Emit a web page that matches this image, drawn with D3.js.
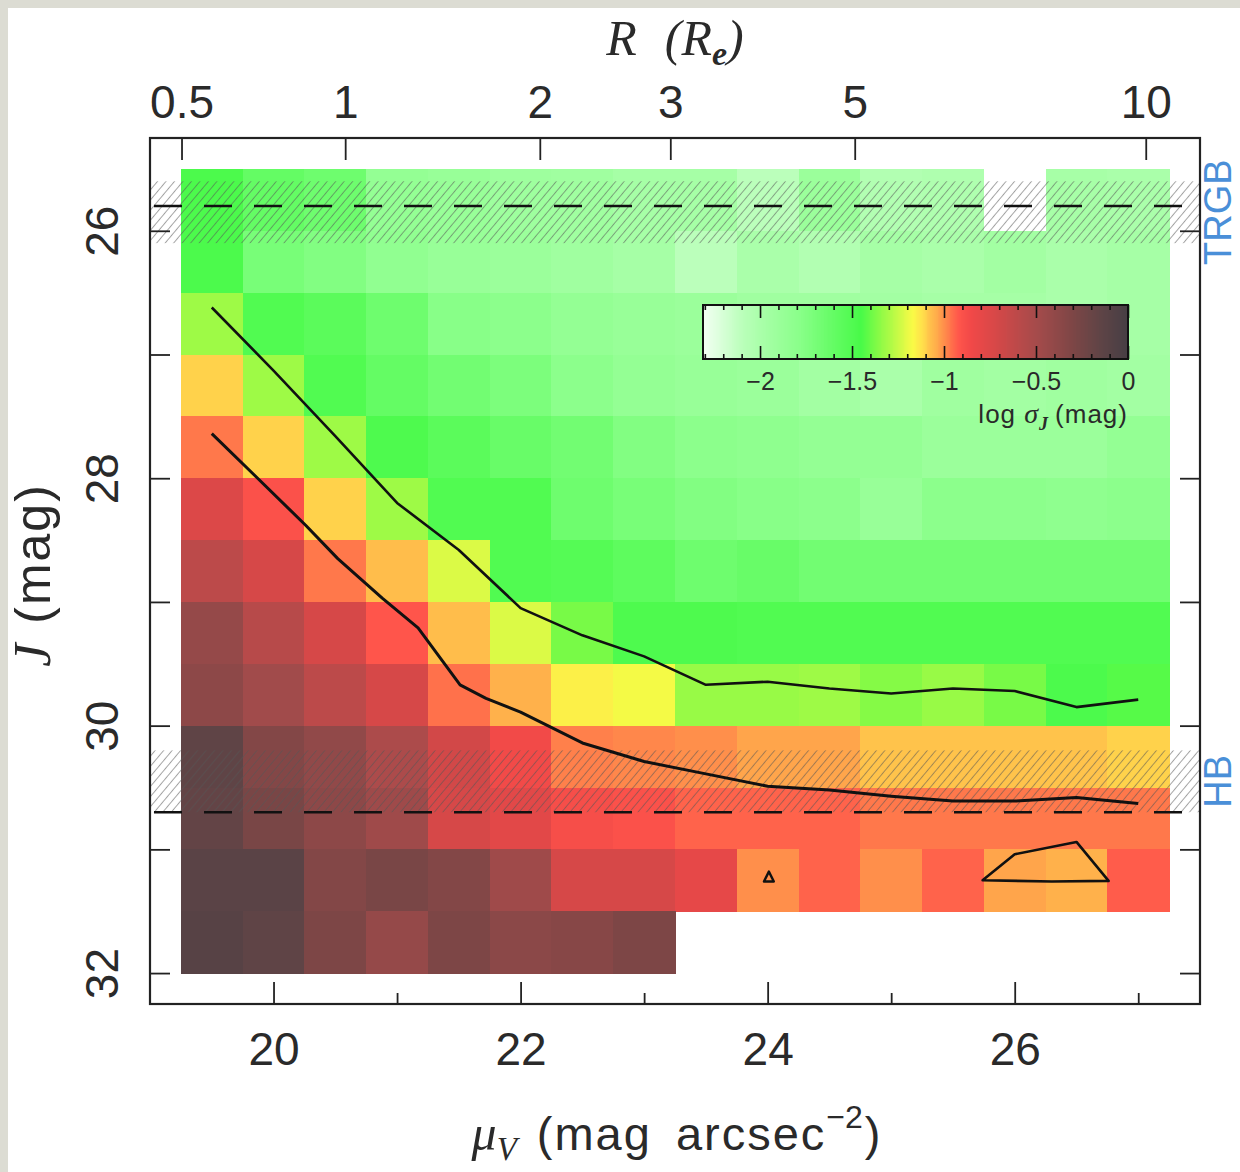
<!DOCTYPE html>
<html><head><meta charset="utf-8">
<script src="https://cdn.jsdelivr.net/npm/d3@7"></script>
<style>body{margin:0;background:#dcdcd3;overflow:hidden} svg{display:block}</style>
</head><body><svg id="c" width="1240" height="1172"></svg>
<script>
// ---------------- data ----------------
const muCenters = [19.5,20,20.5,21,21.5,22,22.5,23,23.5,24,24.5,25,25.5,26,26.5,27];
const jCenters = [25.75,26.25,26.75,27.25,27.75,28.25,28.75,29.25,29.75,30.25,30.75,31.25,31.75];
const logSigmaJ = [
 [-1.47,-1.60,-1.65,-1.85,-1.88,-1.92,-1.93,-1.97,-1.97,-2.10,-1.90,-2.05,-2.03,null,-1.98,-2.00],
 [-1.47,-1.70,-1.75,-1.83,-1.88,-1.90,-1.93,-1.97,-2.10,-2.00,-2.05,-1.97,-2.00,-1.95,-2.00,-1.97],
 [-1.32,-1.50,-1.55,-1.65,-1.78,-1.80,-1.85,-1.88,-1.90,-1.93,-1.93,-1.95,-1.97,-1.97,-2.00,-1.97],
 [-1.10,-1.32,-1.50,-1.60,-1.67,-1.72,-1.80,-1.85,-1.88,-1.90,-1.95,-2.00,-1.93,-1.95,-1.93,-1.95],
 [-0.97,-1.10,-1.32,-1.48,-1.55,-1.62,-1.67,-1.75,-1.80,-1.82,-1.85,-1.85,-1.90,-1.90,-1.90,-1.85],
 [-0.75,-0.90,-1.10,-1.32,-1.50,-1.50,-1.65,-1.70,-1.75,-1.78,-1.80,-1.88,-1.80,-1.80,-1.82,-1.80],
 [-0.60,-0.72,-0.97,-1.07,-1.22,-1.50,-1.52,-1.57,-1.65,-1.62,-1.67,-1.67,-1.67,-1.67,-1.67,-1.67],
 [-0.42,-0.58,-0.72,-0.92,-1.07,-1.22,-1.38,-1.48,-1.48,-1.50,-1.50,-1.50,-1.50,-1.50,-1.50,-1.50],
 [-0.38,-0.48,-0.60,-0.72,-0.96,-1.05,-1.15,-1.18,-1.33,-1.33,-1.32,-1.36,-1.33,-1.38,-1.47,-1.43],
 [-0.15,-0.33,-0.40,-0.53,-0.70,-0.86,-0.98,-0.99,-1.00,-1.03,-1.03,-1.08,-1.08,-1.08,-1.08,-1.10],
 [-0.17,-0.28,-0.38,-0.47,-0.72,-0.78,-0.88,-0.90,-0.94,-0.94,-0.94,-0.97,-0.97,-0.97,-0.97,-0.97],
 [-0.12,-0.12,-0.33,-0.28,-0.33,-0.47,-0.72,-0.72,-0.80,-1.00,-0.94,-1.00,-0.94,-1.03,-1.05,-0.93],
 [-0.10,-0.15,-0.30,-0.42,-0.30,-0.37,-0.35,-0.30,null,null,null,null,null,null,null,null]
];
const upperContour = [[19.5,26.62],[20.0,27.13],[20.5,27.66],[21.0,28.20],[21.5,28.58],[22.0,29.05],[22.5,29.27],[23.0,29.44],[23.5,29.67],[24.0,29.645],[24.5,29.70],[25.0,29.74],[25.5,29.70],[26.0,29.72],[26.5,29.85],[27.0,29.79]];
const lowerContour = [[19.5,27.64],[19.84,27.97],[20.26,28.38],[20.52,28.65],[20.88,28.97],[21.17,29.21],[21.51,29.67],[21.72,29.78],[22.0,29.89],[22.5,30.14],[23.0,30.29],[23.5,30.39],[24.0,30.49],[24.5,30.52],[25.0,30.57],[25.5,30.61],[26.0,30.61],[26.5,30.58],[27.0,30.63]];
const islandTrapezoid = [[25.74,31.25],[26.0,31.04],[26.5,30.94],[26.76,31.255],[26.3,31.26]];
const islandTriangle = [[23.97,31.26],[24.01,31.18],[24.05,31.26]];
const trgbJ = 25.80, trgbBand = [25.6,26.1];
const hbJ = 30.70, hbBand = [30.2,30.7];
const muMajorTicks = [20,22,24,26], muMinorTicks = [21,23,25,27];
const jTicksLabeled = [26,28,30,32], jTicksAll = [26,27,28,29,30,31,32];
const rTicks = [0.5,1,2,3,5,10];
const muEffective = 20.58, sersicB = 8.327;   // mu_V(R) = muE + b (R^(1/4) - 1)
const cbarDomain = [-2.31,0];
const cbarMajor = [-2,-1.5,-1,-0.5,0];
const cbarMinor = d3.range(-2.3,0.001,0.1).map(v=>+v.toFixed(2));
const colorStops = [-2.31,-2.1,-2.0,-1.8,-1.6,-1.45,-1.35,-1.25,-1.17,-1.12,-1.08,-1.03,-0.97,-0.92,-0.85,-0.7,-0.5,-0.3,-0.15,0];
const colorValues = ["#f4fff4","#bbffbb","#aaffaa","#8cff8c","#64fc64","#48fa48","#8cfa46","#c8fa46","#fafa46","#ffe14b","#ffc34b","#ffa54b","#ff784b","#ff554b","#f04848","#d24848","#a54b4b","#7d4646","#5f4446","#463e44"];

// ---------------- layout ----------------
const svg = d3.select("#c");
const M = {l:150, r:1200, t:138, b:1004};
const x = d3.scaleLinear().domain([19,27.5]).range([M.l,M.r]);
const y = d3.scaleLinear().domain([25.25,32.25]).range([M.t,M.b]);
const color = d3.scaleLinear().domain(colorStops).range(colorValues).clamp(true);
const Rof = mu => Math.pow(1 + (mu - muEffective)/sersicB, 4);
const rScale = d3.scalePow().exponent(0.25).domain([Rof(19), Rof(27.5)]).range([M.l,M.r]);
const SANS = "'Liberation Sans', Arial, sans-serif";
const SERIF = "'Liberation Serif', 'Times New Roman', serif";
const INK = "#2a2a2a";

svg.append("rect").attr("width",1240).attr("height",1172).attr("fill","#dcdcd3");
svg.append("rect").attr("x",8).attr("y",8).attr("width",1232).attr("height",1164).attr("fill","#ffffff");

const defs = svg.append("defs");
const pat = defs.append("pattern").attr("id","hatch").attr("patternUnits","userSpaceOnUse")
  .attr("width",6.5).attr("height",6.5).attr("patternTransform","rotate(40)");
pat.append("line").attr("x1",3.25).attr("x2",3.25).attr("y1",0).attr("y2",6.5)
  .attr("stroke","#555").attr("stroke-width",1).attr("stroke-opacity",0.55);
defs.append("clipPath").attr("id","plotclip").append("rect")
  .attr("x",M.l).attr("y",M.t).attr("width",M.r-M.l).attr("height",M.b-M.t);

// heatmap
const cells = [];
logSigmaJ.forEach((row,i)=>row.forEach((v,j)=>{ if(v!==null) cells.push({mu:muCenters[j], J:jCenters[i], v}); }));
svg.append("g").attr("shape-rendering","crispEdges").selectAll("rect").data(cells).join("rect")
  .attr("x",d=>x(d.mu-0.25)).attr("y",d=>y(d.J-0.25))
  .attr("width",d=>x(d.mu+0.25)-x(d.mu-0.25)+0.5).attr("height",d=>y(d.J+0.25)-y(d.J-0.25)+0.5)
  .attr("fill",d=>color(d.v));

// hatched bands
const bands = svg.append("g").attr("clip-path","url(#plotclip)");
[trgbBand,hbBand].forEach(b=>{
  bands.append("rect").attr("x",M.l).attr("width",M.r-M.l)
    .attr("y",y(b[0])).attr("height",y(b[1])-y(b[0])).attr("fill","url(#hatch)");
});
// dashed lines
[trgbJ,hbJ].forEach(j=>{
  bands.append("line").attr("x1",M.l).attr("x2",M.r).attr("y1",y(j)).attr("y2",y(j))
    .attr("stroke","#111").attr("stroke-width",2.6).attr("stroke-dasharray","28,22").attr("stroke-dashoffset",-4);
});

// contours
const line = d3.line().x(d=>x(d[0])).y(d=>y(d[1]));
const lineClosed = d3.line().x(d=>x(d[0])).y(d=>y(d[1])).curve(d3.curveLinearClosed);
const cg = svg.append("g").attr("fill","none").attr("stroke","#111").attr("stroke-width",2.6).attr("stroke-linejoin","round");
cg.append("path").attr("d",line(upperContour));
cg.append("path").attr("d",line(lowerContour)).attr("stroke-width",3);
cg.append("path").attr("d",lineClosed(islandTrapezoid));
cg.append("path").attr("d",lineClosed(islandTriangle)).attr("stroke-width",2.4);

// colorbar
const cb = {t:305, b:359};
const cx = d3.scaleLinear().domain(cbarDomain).range([703,1128]);
const cbg = svg.append("g");
const steps = d3.range(cbarDomain[0],0,0.005);
cbg.append("g").attr("shape-rendering","crispEdges").selectAll("rect").data(steps).join("rect")
  .attr("x",d=>cx(d)).attr("width",d=>cx(d+0.005)-cx(d)+0.6).attr("y",cb.t).attr("height",cb.b-cb.t)
  .attr("fill",d=>color(d+0.0025));
cbg.append("rect").attr("x",cx(cbarDomain[0])).attr("y",cb.t).attr("width",cx(0)-cx(cbarDomain[0]))
  .attr("height",cb.b-cb.t).attr("fill","none").attr("stroke","#111").attr("stroke-width",2);
const isMajor = v => cbarMajor.some(m=>Math.abs(m-v)<1e-6);
cbg.append("g").attr("transform",`translate(0,${cb.t})`)
  .call(d3.axisBottom(cx).tickValues(cbarMinor).tickSize(5).tickFormat(""))
  .call(g=>{g.select(".domain").remove(); g.selectAll(".tick line").attr("y2",d=>isMajor(d)?13:5).attr("stroke","#111").attr("stroke-width",1.6);});
cbg.append("g").attr("transform",`translate(0,${cb.b})`)
  .call(d3.axisTop(cx).tickValues(cbarMinor).tickSize(5).tickFormat(""))
  .call(g=>{g.select(".domain").remove(); g.selectAll(".tick line").attr("y2",d=>isMajor(d)?-13:-5).attr("stroke","#111").attr("stroke-width",1.6);});
cbg.append("g").attr("transform",`translate(0,${cb.b})`)
  .call(d3.axisBottom(cx).tickValues(cbarMajor).tickSize(0).tickPadding(13).tickFormat(d3.format("~g")))
  .call(g=>{g.select(".domain").remove(); g.selectAll("text").attr("font-family",SANS).attr("font-size",25).attr("fill",INK);});
const lt = cbg.append("text").attr("x",1128).attr("y",423).attr("text-anchor","end")
  .attr("font-family",SANS).attr("font-size",26).attr("letter-spacing",1).attr("fill",INK);
lt.append("tspan").text("log ");
lt.append("tspan").attr("font-family",SERIF).attr("font-style","italic").attr("font-size",28).text("σ");
lt.append("tspan").attr("font-family",SERIF).attr("font-style","italic").attr("font-weight","bold").attr("font-size",18).attr("dy",7).text("J");
lt.append("tspan").attr("dy",-7).attr("dx",6).text("(mag)");

// frame and axes
svg.append("rect").attr("x",M.l).attr("y",M.t).attr("width",M.r-M.l).attr("height",M.b-M.t)
  .attr("fill","none").attr("stroke","#222").attr("stroke-width",2.2);
function styleAxis(g){ g.select(".domain").remove();
  g.selectAll(".tick line").attr("stroke","#222").attr("stroke-width",1.8);
  g.selectAll("text").attr("font-family",SANS).attr("font-size",46).attr("fill",INK); }
svg.append("g").attr("transform",`translate(0,${M.b})`)
  .call(d3.axisBottom(x).tickValues(muMajorTicks).tickSize(-22).tickPadding(28).tickFormat(d3.format("d"))).call(styleAxis);
svg.append("g").attr("transform",`translate(0,${M.b})`)
  .call(d3.axisBottom(x).tickValues(muMinorTicks).tickSize(-11).tickFormat("")).call(styleAxis);
svg.append("g").attr("transform",`translate(0,${M.t})`)
  .call(d3.axisTop(rScale).tickValues(rTicks).tickSize(-22).tickPadding(20).tickFormat(d3.format("~g"))).call(styleAxis);
svg.append("g").attr("transform",`translate(${M.l},0)`)
  .call(d3.axisLeft(y).tickValues(jTicksAll).tickSize(-20).tickFormat(d=>jTicksLabeled.includes(d)?d:""))
  .call(styleAxis)
  .call(g=>g.selectAll("text").attr("x",null).attr("dy",null).attr("text-anchor","middle")
     .attr("transform","translate(-32,0) rotate(-90)"));
svg.append("g").attr("transform",`translate(${M.r},0)`)
  .call(d3.axisRight(y).tickValues(jTicksAll).tickSize(-20).tickFormat("")).call(styleAxis);

// axis titles
const tt = svg.append("text").attr("x",675).attr("y",55).attr("text-anchor","middle")
  .attr("font-family",SERIF).attr("font-style","italic").attr("font-size",50).attr("fill",INK);
tt.append("tspan").text("R");
tt.append("tspan").attr("dx",28).text("(R");
tt.append("tspan").attr("font-size",34).attr("font-weight","bold").attr("dy",10).text("e");
tt.append("tspan").attr("dy",-10).text(")");

const bt = svg.append("text").attr("x",676).attr("y",1150).attr("text-anchor","middle")
  .attr("font-family",SANS).attr("font-size",47).attr("fill",INK);
bt.append("tspan").attr("font-family",SERIF).attr("font-style","italic").attr("font-size",50).text("μ");
bt.append("tspan").attr("font-family",SERIF).attr("font-style","italic").attr("font-size",33).attr("dy",10).text("V");
bt.append("tspan").attr("dy",-10).attr("dx",20).attr("letter-spacing",2).text("(mag");
bt.append("tspan").attr("dx",24).attr("letter-spacing",2).text("arcsec");
bt.append("tspan").attr("font-size",32).attr("dy",-22).text("−2");
bt.append("tspan").attr("dy",22).attr("dx",2).text(")");

const yt = svg.append("text").attr("transform",`translate(50,${(M.t+M.b)/2+4}) rotate(-90)`).attr("text-anchor","middle")
  .attr("font-family",SANS).attr("font-size",50).attr("fill",INK);
yt.append("tspan").attr("font-family",SERIF).attr("font-style","italic").attr("font-size",52).text("J");
yt.append("tspan").attr("dx",20).attr("letter-spacing",2).text("(mag)");

// band labels
[["TRGB",trgbBand],["HB",hbBand]].forEach(([t,b])=>{
  svg.append("text").attr("transform",`translate(1231,${y((b[0]+b[1])/2)}) rotate(-90)`)
    .attr("text-anchor","middle").attr("font-family",SANS).attr("font-size",38).attr("fill","#4a8fd8").text(t);
});
</script></body></html>
